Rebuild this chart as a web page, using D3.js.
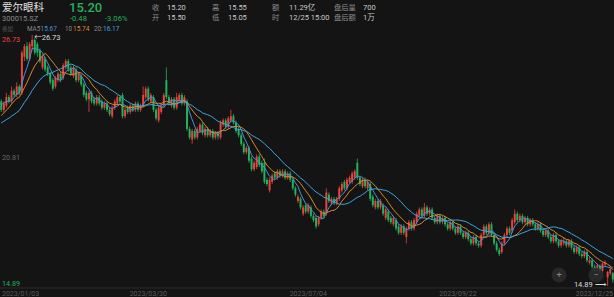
<!DOCTYPE html>
<html>
<head>
<meta charset="utf-8">
<script src="https://cdn.jsdelivr.net/npm/d3@7"></script>
<style>
  body { margin: 0; background: #141414; }
  svg { display: block; font-family: Roboto, "Noto Sans CJK SC", sans-serif; }
</style>
</head>
<body>
<div id="chart"></div>
<script>
// header info
const stockName = "爱尔眼科";
const stockCode = "300015.SZ";
const lastPrice = "15.20";
const priceChange = ["-0.48", "-3.06%"];
const quoteLabels = ["收", "开", "高", "低", "额", "时", "盘后量", "盘后额"];
const quoteValues = ["15.20", "15.50", "15.55", "15.05", "11.29亿", "12/25 15:00", "700", "1万"];
const maNames = ["MA5", "10", "20:"];
const maValues = ["15.67", "15.74", "16.17"];
const maPeriods = [5, 10, 20];

// closes of the 19 sessions before 2023/01/03 (only used for the moving averages)
const prevCloses = [22.0, 22.1, 22.3, 22.2, 22.4, 22.3, 22.2, 22.1, 22.3, 22.45,
                    22.3, 22.4, 22.5, 22.4, 22.5, 23.1, 23.4, 23.6, 23.9];

// daily candles [open, high, low, close], 2023/01/03 .. 2023/12/25
const ohlc = [
  [23.6,23.7,23.1,23.2],[23.2,23.6,23.1,23.5],[23.4,24.0,23.3,23.8],[23.8,23.9,23.5,23.6],[23.6,24.3,23.5,24.1],
  [24.1,24.2,23.8,23.9],[23.9,24.5,23.8,24.3],[24.3,24.4,23.9,24.0],[24.0,26.0,23.9,25.9],[25.7,26.3,25.5,26.2],
  [26.2,26.4,25.5,25.6],[25.6,26.4,25.5,26.3],[26.2,26.73,26.0,26.5],[26.5,26.6,25.8,25.9],[26.3,26.4,25.7,25.9],
  [26.0,26.1,25.4,25.5],[25.2,25.8,25.1,25.7],[25.6,25.7,25.0,25.1],[25.2,25.3,24.8,24.9],[24.9,25.0,24.4,24.5],
  [24.6,24.7,24.1,24.2],[24.3,24.8,24.2,24.7],[24.6,25.0,24.5,24.9],[24.9,25.0,24.5,24.6],[24.7,25.4,24.6,25.3],
  [25.2,25.6,25.1,25.5],[25.5,25.6,25.0,25.1],[25.2,25.3,24.8,24.9],[24.8,25.3,24.7,25.2],[25.1,25.2,24.5,24.6],
  [24.6,25.0,24.5,24.9],[24.8,24.9,24.3,24.4],[24.4,24.5,23.8,23.9],[24.0,24.1,23.6,23.7],[23.7,24.1,23.1,24.0],
  [24.0,24.1,23.5,23.6],[23.7,23.8,23.4,23.5],[23.5,23.9,23.4,23.8],[23.8,23.9,23.4,23.5],[23.6,23.7,23.2,23.3],
  [23.3,23.6,23.2,23.5],[23.5,23.6,23.1,23.2],[23.2,23.3,22.9,23.0],[22.9,23.4,22.8,23.3],[23.3,23.7,23.2,23.6],
  [23.5,23.9,23.4,23.8],[23.8,23.9,23.5,23.6],[23.9,24.0,22.8,22.9],[22.9,23.3,22.8,23.2],[23.3,23.4,23.0,23.1],
  [23.1,23.5,23.0,23.4],[23.4,23.5,23.1,23.2],[23.2,23.6,23.1,23.5],[23.5,23.6,23.1,23.2],[23.2,23.5,23.1,23.4],
  [23.4,24.3,23.3,23.9],[23.8,24.3,23.7,24.2],[24.2,24.3,23.6,23.7],[23.6,24.0,23.5,23.9],[23.8,23.9,23.1,23.2],
  [23.2,23.3,22.7,22.8],[22.7,23.4,22.6,23.3],[23.1,23.5,23.0,23.4],[23.4,24.0,23.3,23.9],[24.6,25.2,23.7,23.8],
  [23.8,23.9,23.4,23.5],[23.4,23.8,23.3,23.7],[23.7,23.8,23.2,23.3],[23.3,24.0,23.2,23.8],[23.6,24.0,23.5,23.9],
  [23.9,24.0,23.4,23.5],[23.5,23.9,23.4,23.8],[23.6,23.7,22.2,22.3],[22.3,22.4,21.8,21.9],[21.8,22.3,21.6,22.2],
  [22.2,22.3,21.8,21.9],[21.9,22.4,21.8,22.3],[22.2,22.6,22.1,22.5],[22.5,22.6,22.0,22.1],[22.0,22.4,21.9,22.3],
  [22.3,22.4,21.9,22.0],[22.0,22.3,21.9,22.2],[22.2,22.3,21.8,21.9],[21.9,22.2,21.8,22.1],[22.1,22.2,21.8,21.95],
  [21.9,22.7,21.8,22.6],[22.5,22.8,22.4,22.7],[22.7,22.8,22.3,22.4],[22.4,22.9,22.3,22.8],[22.7,23.2,22.6,22.9],
  [22.9,23.0,22.5,22.6],[22.6,22.7,22.1,22.2],[22.3,22.4,21.9,22.0],[22.0,22.1,21.5,21.6],[21.6,21.7,21.1,21.2],
  [21.2,21.5,21.1,21.4],[21.4,21.5,20.7,20.8],[20.9,21.0,20.3,20.4],[20.4,20.8,20.3,20.7],[20.5,21.1,20.4,21.0],
  [21.0,21.1,20.5,20.6],[20.7,20.8,20.2,20.3],[20.7,20.9,19.7,19.8],[19.9,20.0,19.6,19.7],[19.4,20.0,19.3,19.9],
  [19.8,20.2,19.7,20.1],[20.2,20.3,19.9,20.0],[20.0,20.4,19.9,20.3],[20.3,20.4,20.0,20.1],[20.1,20.4,20.0,20.3],
  [20.3,20.4,19.9,20.0],[20.0,20.3,19.9,20.2],[20.2,20.3,19.8,19.9],[19.9,20.0,19.4,19.5],[19.5,19.6,19.1,19.2],
  [18.9,19.2,18.8,19.1],[19.0,19.1,18.5,18.6],[18.3,18.7,18.2,18.6],[18.7,18.8,18.3,18.4],[18.4,18.8,18.3,18.7],
  [18.6,18.7,18.1,18.2],[18.2,18.3,17.9,18.0],[18.1,18.2,17.6,17.7],[17.8,18.2,17.7,18.1],[18.1,18.5,18.0,18.4],
  [18.4,18.5,18.1,18.2],[18.3,19.5,18.2,19.3],[19.2,19.3,18.8,18.9],[18.8,19.1,18.7,19.0],[19.0,19.1,18.7,18.8],
  [18.8,19.1,18.7,19.0],[19.0,19.6,18.9,19.5],[19.4,19.8,19.3,19.7],[19.8,19.9,19.4,19.5],[19.5,20.0,19.4,19.9],
  [19.8,20.1,19.7,20.0],[19.8,20.3,19.7,20.2],[20.0,20.4,19.9,20.3],[20.7,20.9,19.9,20.0],[20.0,20.1,19.6,19.7],
  [19.6,20.0,19.5,19.9],[19.9,20.0,19.5,19.6],[19.5,19.9,19.4,19.8],[19.7,19.8,18.9,19.0],[19.1,19.2,18.6,18.7],
  [18.6,19.0,18.5,18.9],[18.9,19.0,18.5,18.6],[18.6,19.0,18.5,18.9],[18.7,18.8,18.2,18.3],[18.1,18.6,18.0,18.5],
  [18.4,18.5,17.9,18.0],[18.1,18.2,17.8,17.9],[17.8,18.2,17.7,18.1],[18.0,18.1,17.5,17.6],[17.7,17.8,17.3,17.4],
  [17.4,17.8,17.3,17.7],[17.7,17.8,17.3,17.4],[17.2,17.7,16.9,17.6],[17.6,18.0,17.5,17.9],[17.9,18.0,17.5,17.6],
  [17.6,18.1,17.5,18.0],[17.9,18.4,17.8,18.3],[18.2,18.6,18.1,18.5],[18.5,18.6,18.1,18.2],[18.2,18.8,18.1,18.6],
  [18.6,18.7,18.2,18.3],[18.3,18.6,18.2,18.5],[18.5,18.6,18.0,18.1],[18.1,18.2,17.8,17.9],[17.9,18.3,17.8,18.2],
  [18.2,18.3,17.8,17.9],[17.9,18.2,17.8,18.1],[18.1,18.2,17.7,17.8],[17.8,17.9,17.5,17.6],[17.6,18.0,17.5,17.9],
  [17.9,18.0,17.5,17.6],[17.6,17.7,17.3,17.4],[17.4,17.8,17.3,17.7],[17.7,17.8,17.3,17.4],[17.4,17.5,17.1,17.2],
  [17.2,17.5,17.1,17.4],[17.4,17.5,17.0,17.1],[17.1,17.2,16.8,16.9],[16.9,17.3,16.8,17.2],[17.2,17.3,16.8,16.9],
  [16.9,17.0,16.7,16.8],[16.8,17.4,16.7,17.3],[17.3,17.8,17.2,17.7],[17.7,17.8,17.3,17.4],[17.4,17.9,17.3,17.8],
  [17.8,17.9,17.2,17.3],[17.3,17.4,16.8,16.9],[16.9,17.0,16.5,16.6],[16.6,16.7,16.3,16.4],[16.5,17.0,16.4,16.9],
  [16.9,17.4,16.8,17.3],[17.3,17.7,17.2,17.6],[17.6,17.7,17.3,17.4],[17.5,18.1,17.4,18.0],[17.9,18.5,17.8,18.3],
  [18.3,18.4,17.9,18.0],[18.0,18.3,17.9,18.2],[18.2,18.3,17.8,17.9],[17.9,18.2,17.8,18.1],[18.1,18.2,17.7,17.8],
  [17.8,18.1,17.7,18.0],[18.0,18.1,17.7,17.8],[17.8,17.9,17.5,17.6],[17.6,17.9,17.5,17.8],[17.8,17.9,17.4,17.5],
  [17.5,17.6,17.2,17.3],[17.3,17.6,17.2,17.5],[17.5,17.6,17.1,17.2],[17.2,17.3,16.9,17.0],[17.0,17.4,16.9,17.3],
  [17.3,17.4,16.9,17.0],[17.0,17.1,16.7,16.8],[16.8,17.1,16.7,17.0],[16.9,17.2,16.8,17.0],[17.0,17.1,16.7,16.8],
  [16.8,17.1,16.7,17.0],[17.0,17.1,16.6,16.7],[16.7,16.8,16.4,16.5],[16.5,16.8,16.4,16.7],[16.7,16.8,16.3,16.4],
  [16.4,16.5,16.2,16.3],[16.3,16.6,16.2,16.5],[16.5,16.6,16.0,16.1],[16.0,16.3,15.9,16.1],[16.1,16.2,15.7,15.8],
  [15.8,15.9,15.6,15.7],[15.7,15.95,15.6,15.85],[15.85,15.9,15.5,15.6],[15.6,16.0,15.5,15.95],[15.9,16.1,15.8,15.97],
  [15.3,15.6,14.89,15.55],[15.5,15.8,15.4,15.68],[15.50,15.55,15.05,15.20]
];

const tickIndex = [0, 57, 119, 177, 237];
const tickLabels = ["2023/01/03", "2023/03/30", "2023/07/04", "2023/09/22", "2023/12/25"];

const W = 614, H = 297;
const upColor = "#e8453c", downColor = "#23b35c";
const maColors = ["#4a90d8", "#d9892c", "#3aa6e4"];

const svg = d3.select("#chart").append("svg")
  .attr("width", W).attr("height", H);

svg.append("rect").attr("width", W).attr("height", H).attr("fill", "#141414");

// ---- header ----
svg.append("text").attr("x", 2).attr("y", 11).attr("fill", "#e2e2e2")
  .style("font-size", "10.5px").text(stockName);
svg.append("text").attr("x", 69).attr("y", 12).attr("fill", downColor)
  .style("font-size", "13px").style("font-weight", 500).text(lastPrice);
svg.append("text").attr("x", 2).attr("y", 21).attr("fill", "#8a8a8a")
  .style("font-size", "7.5px").text(stockCode);
svg.selectAll(".chg").data(priceChange).enter().append("text")
  .attr("x", (d, i) => [70, 105][i]).attr("y", 21).attr("fill", downColor)
  .style("font-size", "7.6px").text(d => d);

const colX = [152, 212, 272, 334], valX = [167, 228, 289, 363];
quoteLabels.forEach((lab, i) => {
  const col = Math.floor(i / 2), row = i % 2;
  svg.append("text").attr("x", colX[col]).attr("y", 9.5 + row * 10.5)
    .attr("fill", "#8c8c8c").style("font-size", "7.3px").text(lab);
  svg.append("text").attr("x", valX[col]).attr("y", 9.5 + row * 10.5)
    .attr("fill", "#c9c9c9").style("font-size", "7.5px").text(quoteValues[i]);
});

// MA legend row
svg.append("text").attr("x", 2).attr("y", 30.5).attr("fill", "#555")
  .style("font-size", "5.5px").text("叠加");
const legNameX = [27, 65, 94], legValX = [40.5, 73, 103];
maNames.forEach((n, i) => {
  svg.append("text").attr("x", legNameX[i]).attr("y", 30.5).attr("fill", "#8a8a8a")
    .style("font-size", "6.3px").text(n);
  svg.append("text").attr("x", legValX[i]).attr("y", 30.5).attr("fill", maColors[i])
    .style("font-size", "6.5px").text(maValues[i]);
});

// ---- scales ----
const x = d3.scaleBand().domain(d3.range(ohlc.length)).range([0, W])
  .paddingInner(0.25).paddingOuter(0.1);
const lo = d3.min(ohlc, d => d[2]), hi = d3.max(ohlc, d => d[1]);
const y = d3.scaleLinear().domain([lo, hi]).range([286, 35]);
const bw = x.bandwidth();
const cx = i => x(i) + bw / 2;

// price labels
const priceLabels = [hi, (hi + lo) / 2, lo];
const priceColors = [upColor, "#666", downColor];
svg.selectAll(".plab").data(priceLabels).enter().append("text")
  .attr("x", 2)
  .attr("y", (d, i) => y(d) + [6.5, -1, 0][i])
  .attr("fill", (d, i) => priceColors[i])
  .style("font-size", "7.2px")
  .text(d => d.toFixed(2));

// x axis
const axis = svg.append("g").attr("transform", "translate(0,288)")
  .call(d3.axisBottom(x).tickValues(tickIndex).tickSize(0)
    .tickFormat((d, i) => tickLabels[i]));
axis.select(".domain").attr("stroke", "#2a2a2a").attr("d", `M0,0H${W}`);
axis.selectAll("text").attr("fill", "#5c5c5c").style("font-size", "7px")
  .attr("dy", "0.75em").attr("y", 2.5)
  .style("font-family", "Roboto, sans-serif")
  .attr("text-anchor", (d, i) => i === 0 ? "start" : i === tickIndex.length - 1 ? "end" : "middle")
  .attr("x", (d, i) => i === 0 ? 2 - x(d) - bw / 2 : i === tickIndex.length - 1 ? W - 1 - x(d) - bw / 2 : 0);

// ---- candles ----
const candles = svg.append("g");
candles.selectAll("line").data(ohlc).enter().append("line")
  .attr("x1", (d, i) => cx(i)).attr("x2", (d, i) => cx(i))
  .attr("y1", d => y(d[1])).attr("y2", d => y(d[2]))
  .attr("stroke", d => d[3] >= d[0] ? upColor : downColor)
  .attr("stroke-width", 0.8);
candles.selectAll("rect").data(ohlc).enter().append("rect")
  .attr("x", (d, i) => x(i))
  .attr("y", d => y(Math.max(d[0], d[3])))
  .attr("width", bw)
  .attr("height", d => Math.max(1, Math.abs(y(d[0]) - y(d[3]))))
  .attr("fill", d => d[3] >= d[0] ? upColor : downColor);

// ---- moving averages ----
const allCloses = prevCloses.concat(ohlc.map(d => d[3]));
const off = prevCloses.length;
maPeriods.forEach((p, k) => {
  const ma = ohlc.map((d, i) => d3.mean(allCloses.slice(off + i - p + 1, off + i + 1)));
  svg.append("path").datum(ma)
    .attr("fill", "none").attr("stroke", maColors[k]).attr("stroke-width", 1)
    .attr("d", d3.line().x((d, i) => cx(i)).y(d => y(d)));
});

// zoom buttons
const btns = svg.append("g");
[[559, "+"], [596, "\u2212"]].forEach(([bx, s]) => {
  btns.append("circle").attr("cx", bx).attr("cy", 275).attr("r", 7.5)
    .attr("fill", "#2b2b2b").attr("opacity", 0.85);
  btns.append("text").attr("x", bx).attr("y", 278).attr("text-anchor", "middle")
    .attr("fill", "#8a8a8a").style("font-size", "9px").text(s);
});

// ---- high / low markers ----
const hiIdx = d3.maxIndex(ohlc, d => d[1]);
const loIdx = d3.minIndex(ohlc, d => d[2]);
svg.append("text").attr("x", cx(hiIdx) + 2).attr("y", y(hi) + 4.5)
  .attr("fill", "#dcdcdc").style("font-size", "7.5px").text("\u2190" + hi.toFixed(2));
svg.append("text").attr("x", cx(loIdx) - 2).attr("y", y(lo) + 1)
  .attr("text-anchor", "end")
  .attr("fill", "#dcdcdc").style("font-size", "7.5px").text(lo.toFixed(2) + " \u27f6");
</script>
</body>
</html>
